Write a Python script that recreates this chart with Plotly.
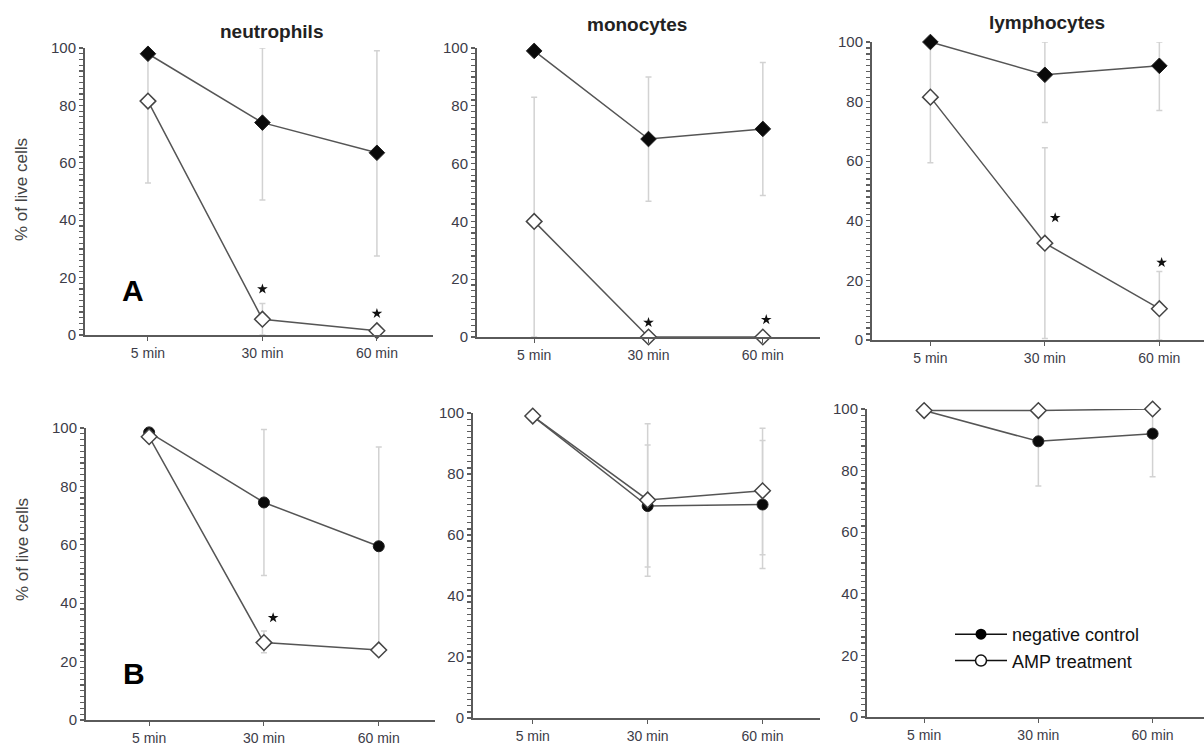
import plotly.graph_objects as go

# ---------------- data ----------------
times = ["5 min", "30 min", "60 min"]
cell_types = ["neutrophils", "monocytes", "lymphocytes"]
series_names = ["negative control", "AMP treatment"]
y_title = "% of live cells"
row_letters = ["A", "B"]
y_labels = ["0", "20", "40", "60", "80", "100"]

# Row A
a_neu_ctrl = [98, 74, 63.5]
a_neu_ctrl_hi = [98, 100, 99]
a_neu_ctrl_lo = [98, 47, 27.5]
a_neu_amp = [81.5, 5.5, 1.5]
a_neu_amp_hi = [98, 11, 1.5]
a_neu_amp_lo = [53, 0, 0]
a_neu_sig_x = [1, 2]
a_neu_sig_y = [16, 7.5]

a_mon_ctrl = [99, 68.5, 72]
a_mon_ctrl_hi = [99, 90, 95]
a_mon_ctrl_lo = [99, 47, 49]
a_mon_amp = [40, 0, 0]
a_mon_amp_hi = [83, 0, 0]
a_mon_amp_lo = [0, 0, 0]
a_mon_sig_x = [1, 2.03]
a_mon_sig_y = [5, 6]

a_lym_ctrl = [100, 89, 92]
a_lym_ctrl_hi = [100, 100, 100]
a_lym_ctrl_lo = [100, 73, 77]
a_lym_amp = [81.5, 32.5, 10.5]
a_lym_amp_hi = [100, 64.5, 23]
a_lym_amp_lo = [59.5, 0.5, 0]
a_lym_sig_x = [1.09, 2.02]
a_lym_sig_y = [41, 26]

# Row B
b_neu_ctrl = [98.5, 74.5, 59.5]
b_neu_ctrl_hi = [98.5, 99.5, 93.5]
b_neu_ctrl_lo = [98.5, 49.5, 25]
b_neu_amp = [97, 26.5, 24]
b_neu_amp_hi = [97, 30.5, 24]
b_neu_amp_lo = [97, 23, 24]
b_neu_sig_x = [1.08]
b_neu_sig_y = [35]

b_mon_ctrl = [99, 69.5, 70]
b_mon_ctrl_hi = [99, 89.5, 91]
b_mon_ctrl_lo = [99, 49.5, 53.5]
b_mon_amp = [99, 71.5, 74.5]
b_mon_amp_hi = [99, 96.5, 95]
b_mon_amp_lo = [99, 46.5, 49]
b_mon_sig_x = []
b_mon_sig_y = []

b_lym_ctrl = [99.5, 89.5, 92]
b_lym_ctrl_hi = [99.5, 99.5, 100]
b_lym_ctrl_lo = [99.5, 75, 78]
b_lym_amp = [99.5, 99.5, 100]
b_lym_amp_hi = [99.5, 99.5, 100]
b_lym_amp_lo = [99.5, 99.5, 100]
b_lym_sig_x = []
b_lym_sig_y = []

# ---------------- layout geometry (pixels) ----------------
W, H = 1204, 749
# (axis_left, axis_right, y_px_at_0, y_px_at_100, xrange)
geom = [
    (85, 433, 335, 48, [-0.55, 2.49]),
    (477, 820, 337, 48, [-0.50, 2.50]),
    (872, 1204, 340, 42, [-0.51, 2.39]),
    (86, 435, 720, 428, [-0.55, 2.49]),
    (473, 820, 718, 413, [-0.52, 2.50]),
    (867, 1204, 717, 409, [-0.50, 2.45]),
]

panels = [
    (a_neu_ctrl, a_neu_ctrl_hi, a_neu_ctrl_lo, a_neu_amp, a_neu_amp_hi, a_neu_amp_lo, a_neu_sig_x, a_neu_sig_y),
    (a_mon_ctrl, a_mon_ctrl_hi, a_mon_ctrl_lo, a_mon_amp, a_mon_amp_hi, a_mon_amp_lo, a_mon_sig_x, a_mon_sig_y),
    (a_lym_ctrl, a_lym_ctrl_hi, a_lym_ctrl_lo, a_lym_amp, a_lym_amp_hi, a_lym_amp_lo, a_lym_sig_x, a_lym_sig_y),
    (b_neu_ctrl, b_neu_ctrl_hi, b_neu_ctrl_lo, b_neu_amp, b_neu_amp_hi, b_neu_amp_lo, b_neu_sig_x, b_neu_sig_y),
    (b_mon_ctrl, b_mon_ctrl_hi, b_mon_ctrl_lo, b_mon_amp, b_mon_amp_hi, b_mon_amp_lo, b_mon_sig_x, b_mon_sig_y),
    (b_lym_ctrl, b_lym_ctrl_hi, b_lym_ctrl_lo, b_lym_amp, b_lym_amp_hi, b_lym_amp_lo, b_lym_sig_x, b_lym_sig_y),
]

FONT = "Arial, 'Liberation Sans', sans-serif"
LINE_COL = "#555555"
AXIS_COL = "#5a5a5a"
ERR_COL = "#d2d2d2"
TICK_COL = "#3c3c48"

# y-axis ticks every 2 units, labelled every 20
ytick_vals = list(range(0, 101, 2))
ytick_text = [lab if lab in y_labels else "" for lab in (str(v) for v in ytick_vals)]

xs = list(range(len(times)))
fig = go.Figure()
layout = dict(
    template="none",
    width=W, height=H, margin=dict(l=0, r=0, t=0, b=0, pad=0, autoexpand=False),
    paper_bgcolor="white", plot_bgcolor="white",
    font=dict(family=FONT, color=TICK_COL),
    showlegend=True,
)

for i, (p, g) in enumerate(zip(panels, geom)):
    ctrl, chi, clo, amp, ahi, alo, sx, sy = p
    left, right, y0, y100, xr = g
    n = "" if i == 0 else str(i + 1)
    xa, ya = "x" + n, "y" + n
    row_b = i >= 3

    for vals, hi, lo in ((ctrl, chi, clo), (amp, ahi, alo)):
        fig.add_trace(go.Scatter(
            x=xs, y=vals, xaxis=xa, yaxis=ya, mode="markers",
            marker=dict(size=1, color="rgba(0,0,0,0)"),
            error_y=dict(type="data", symmetric=False,
                         array=[h - v for h, v in zip(hi, vals)],
                         arrayminus=[v - l for v, l in zip(vals, lo)],
                         color=ERR_COL, thickness=1.5, width=3),
            hoverinfo="skip", showlegend=False, cliponaxis=False))

    fig.add_trace(go.Scatter(
        x=xs, y=ctrl, xaxis=xa, yaxis=ya, mode="lines+markers",
        line=dict(color=LINE_COL, width=1.5),
        marker=dict(symbol="circle" if row_b else "diamond",
                    size=11 if row_b else 12, color="#0a0a0a",
                    line=dict(color="#222", width=1)),
        name=series_names[0], showlegend=False, cliponaxis=False))
    fig.add_trace(go.Scatter(
        x=xs, y=amp, xaxis=xa, yaxis=ya, mode="lines+markers",
        line=dict(color=LINE_COL, width=1.5),
        marker=dict(symbol="diamond", size=12, color="white",
                    line=dict(color="#444", width=1.5)),
        name=series_names[1], showlegend=False, cliponaxis=False))
    if sx:
        fig.add_trace(go.Scatter(
            x=sx, y=sy, xaxis=xa, yaxis=ya, mode="markers",
            marker=dict(symbol="star", size=8, color="#111"),
            showlegend=False, hoverinfo="skip", cliponaxis=False))

    ydom = [1 - y0 / H, 1 - y100 / H]
    layout["xaxis" + n] = dict(
        domain=[left / W, right / W], range=xr, anchor=ya, automargin=False,
        tickvals=xs, ticktext=times, ticks="outside", ticklen=4,
        tickcolor=AXIS_COL, showline=True, linecolor=AXIS_COL, linewidth=2,
        showgrid=False, zeroline=False, fixedrange=True,
        tickfont=dict(size=14, color=TICK_COL, family=FONT))
    layout["yaxis" + n] = dict(
        domain=ydom, range=[0, 100], anchor=xa, automargin=False,
        tickmode="array", tickvals=ytick_vals, ticktext=ytick_text,
        ticks="outside", ticklen=4, tickcolor="#5e5e5e", tickwidth=1.2,
        showline=True, linecolor=AXIS_COL, linewidth=2,
        showgrid=False, zeroline=False, fixedrange=True,
        tickfont=dict(size=15, color=TICK_COL, family=FONT))

# legend-only traces
fig.add_trace(go.Scatter(x=[None], y=[None], xaxis="x6", yaxis="y6",
                         mode="lines+markers", name=series_names[0],
                         line=dict(color="#111", width=1.5),
                         marker=dict(symbol="circle", size=11, color="#000")))
fig.add_trace(go.Scatter(x=[None], y=[None], xaxis="x6", yaxis="y6",
                         mode="lines+markers", name=series_names[1],
                         line=dict(color="#111", width=1.5),
                         marker=dict(symbol="circle", size=11, color="white",
                                     line=dict(color="#111", width=1.5))))

layout["legend"] = dict(x=950 / W, y=1 - 616 / H, xanchor="left", yanchor="top",
                        bgcolor="rgba(0,0,0,0)", itemwidth=52, borderwidth=0,
                        font=dict(size=18, color="#111", family=FONT),
                        tracegroupgap=0)

annotations = []
title_pos = [(271, 32), (637, 24), (1047, 22)]
for name, (tx, ty) in zip(cell_types, title_pos):
    annotations.append(dict(text="<b>" + name + "</b>", x=tx / W, y=1 - ty / H,
                            xref="paper", yref="paper", showarrow=False,
                            xanchor="center", yanchor="middle",
                            font=dict(size=19, color="#222", family=FONT)))
for ty in (190, 550):
    annotations.append(dict(text=y_title, x=22 / W, y=1 - ty / H,
                            xref="paper", yref="paper", showarrow=False,
                            textangle=-90, xanchor="center", yanchor="middle",
                            font=dict(size=17, color="#444", family=FONT)))
for letter, (lx, ly) in zip(row_letters, [(133, 290), (134, 673)]):
    annotations.append(dict(text="<b>" + letter + "</b>", x=lx / W, y=1 - ly / H,
                            xref="paper", yref="paper", showarrow=False,
                            xanchor="center", yanchor="middle",
                            font=dict(size=30, color="#000", family=FONT)))
layout["annotations"] = annotations

fig.update_layout(**layout)
fig.write_html(
    "out.html",
    config={"displayModeBar": False, "staticPlot": True},
    post_script=(
        "document.documentElement.style.margin='0';"
        "document.documentElement.style.padding='0';"
        "document.documentElement.style.overflow='hidden';"
        "document.body.style.margin='0';"
        "document.body.style.padding='0';"
        "document.body.style.overflow='hidden';"
        "var gd=document.querySelector('.plotly-graph-div');"
        "gd.style.position='fixed';gd.style.top='0px';gd.style.left='0px';"
    ),
)
